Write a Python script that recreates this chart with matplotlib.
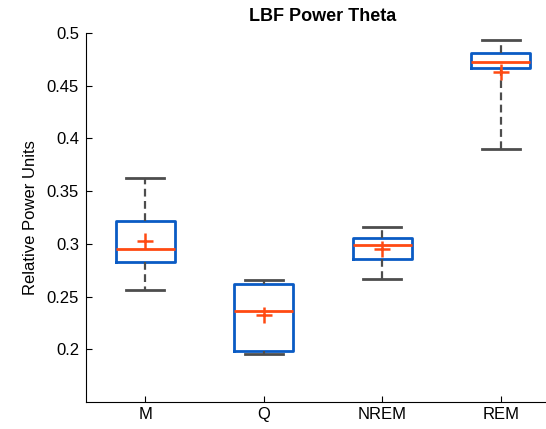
import matplotlib
matplotlib.use('Agg')
import matplotlib.pyplot as plt

plt.rcParams['font.family'] = ['Liberation Sans', 'DejaVu Sans']

# box statistics per sleep/wake state
states = ['M', 'Q', 'NREM', 'REM']
whisker_low = [0.2565, 0.1959, 0.267, 0.3902]
q1 = [0.2826, 0.1981, 0.286, 0.4673]
median = [0.2952, 0.2359, 0.2993, 0.4724]
q3 = [0.3213, 0.2619, 0.306, 0.481]
whisker_high = [0.3629, 0.266, 0.3162, 0.4933]
mean = [0.303, 0.233, 0.2952, 0.4635]

box_blue = '#0A5BC4'
med_red = '#FF4A12'
whisk_gray = '#4D4D4D'

stats = []
for i in range(len(states)):
    stats.append({'label': states[i], 'whislo': whisker_low[i], 'q1': q1[i],
                  'med': median[i], 'q3': q3[i], 'whishi': whisker_high[i],
                  'mean': mean[i], 'fliers': []})

fig = plt.figure(figsize=(5.46, 4.29), dpi=100)
ax = fig.add_axes([0.1575, 0.0629, 0.868, 0.860])

ax.bxp(stats, positions=range(1, len(states) + 1), widths=0.5, showmeans=True,
       boxprops=dict(color=box_blue, linewidth=2),
       medianprops=dict(color=med_red, linewidth=2),
       whiskerprops=dict(color=whisk_gray, linewidth=1.6, linestyle=(0, (3.5, 2))),
       capprops=dict(color=whisk_gray, linewidth=2),
       capwidths=0.32,
       meanprops=dict(marker='+', markeredgecolor=med_red, markersize=11,
                      markeredgewidth=1.8))

ax.set_xlim(0.5, 4.5)
ax.set_ylim(0.15, 0.5)
ax.set_yticks([0.2, 0.25, 0.3, 0.35, 0.4, 0.45, 0.5])
ax.set_yticklabels(['0.2', '0.25', '0.3', '0.35', '0.4', '0.45', '0.5'])
ax.tick_params(direction='in', length=4, width=0.8, labelsize=12, colors='black')
ax.tick_params(axis='y', pad=5)
ax.spines['top'].set_visible(False)
ax.spines['right'].set_visible(False)
ax.set_ylabel('Relative Power Units', fontsize=12, labelpad=6)
ax.set_title('LBF Power Theta', fontsize=13, fontweight='bold', pad=9)

fig.savefig('out.png', dpi=100)
